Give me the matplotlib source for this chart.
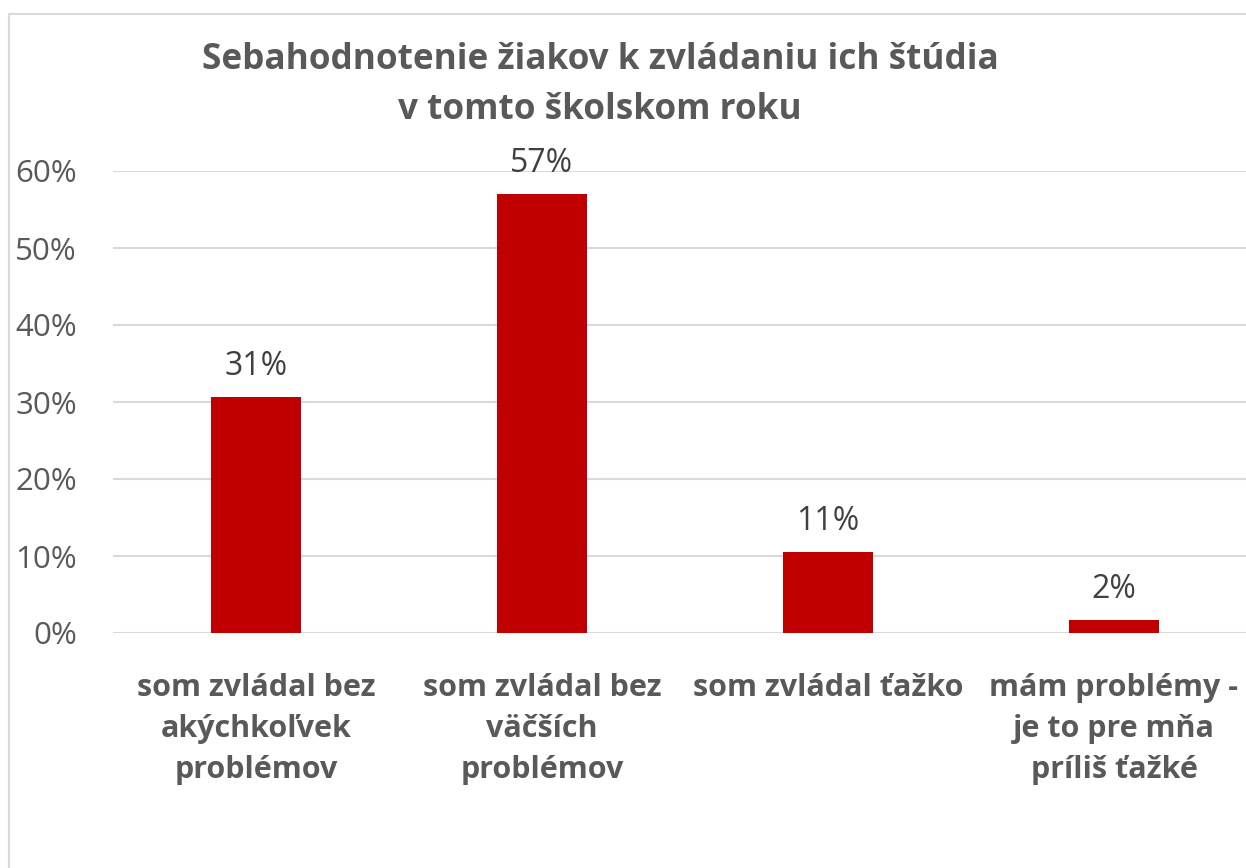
import matplotlib
matplotlib.use('Agg')
import matplotlib.pyplot as plt
from matplotlib.patches import Rectangle
from matplotlib.ticker import PercentFormatter

categories = ['som zvládal bez\nakýchkoľvek\nproblémov',
              'som zvládal bez\nväčších\nproblémov',
              'som zvládal ťažko',
              'mám problémy -\nje to pre mňa\npríliš ťažké']
values = [30.6, 57.0, 10.5, 1.7]
labels = ['31%', '57%', '11%', '2%']
yticks = [0, 10, 20, 30, 40, 50, 60]

RED = '#C00000'
GREY = '#595959'
W, H = 1246, 868

plt.rcParams['font.family'] = ['Open Sans', 'DejaVu Sans']

fig = plt.figure(figsize=(W / 100, H / 100), dpi=100)
# chart border, cropped on the right and bottom
fig.patches.append(Rectangle((9 / W, -0.5), 2, 0.5 + 1 - 14 / H, transform=fig.transFigure,
                             fill=False, edgecolor='#D9D9D9', lw=1.5))

# plot area: x 113..1246 (cropped on the right), y 171..633
ax = fig.add_axes([113 / W, 1 - 633 / H, (W - 113) / W, (633 - 171) / H])
ax.bar(range(len(values)), values, width=0.314, color=RED, zorder=3)
ax.set_xlim(-0.5, 3.5 - 11 / 286.3)
ax.set_ylim(0, 60)
ax.set_yticks(yticks)
ax.yaxis.set_major_formatter(PercentFormatter(decimals=0))
ax.grid(axis='y', color='#D9D9D9', lw=1.5, zorder=0)
for s in ax.spines.values():
    s.set_visible(False)
ax.tick_params(axis='y', length=0, pad=26, labelsize=22.5, labelcolor=GREY)
ax.tick_params(axis='x', length=0, pad=29, labelsize=22, labelcolor=GREY)
ax.set_xticks(range(len(values)))
ax.set_xticklabels(categories, fontweight='bold', linespacing=1.48)

for i, (v, lab) in enumerate(zip(values, labels)):
    ax.annotate(lab, (i, v), xytext=(0, 10), textcoords='offset points',
                ha='center', va='bottom', fontsize=23, color='#404040')

fig.text(600 / W, 1 - 85 / H, 'Sebahodnotenie žiakov k zvládaniu ich štúdia\nv tomto školskom roku',
         ha='center', va='center', fontsize=25.3, fontweight='bold', color=GREY,
         linespacing=1.5)

fig.savefig('out.png', dpi=100, facecolor='white')
plt.close(fig)
